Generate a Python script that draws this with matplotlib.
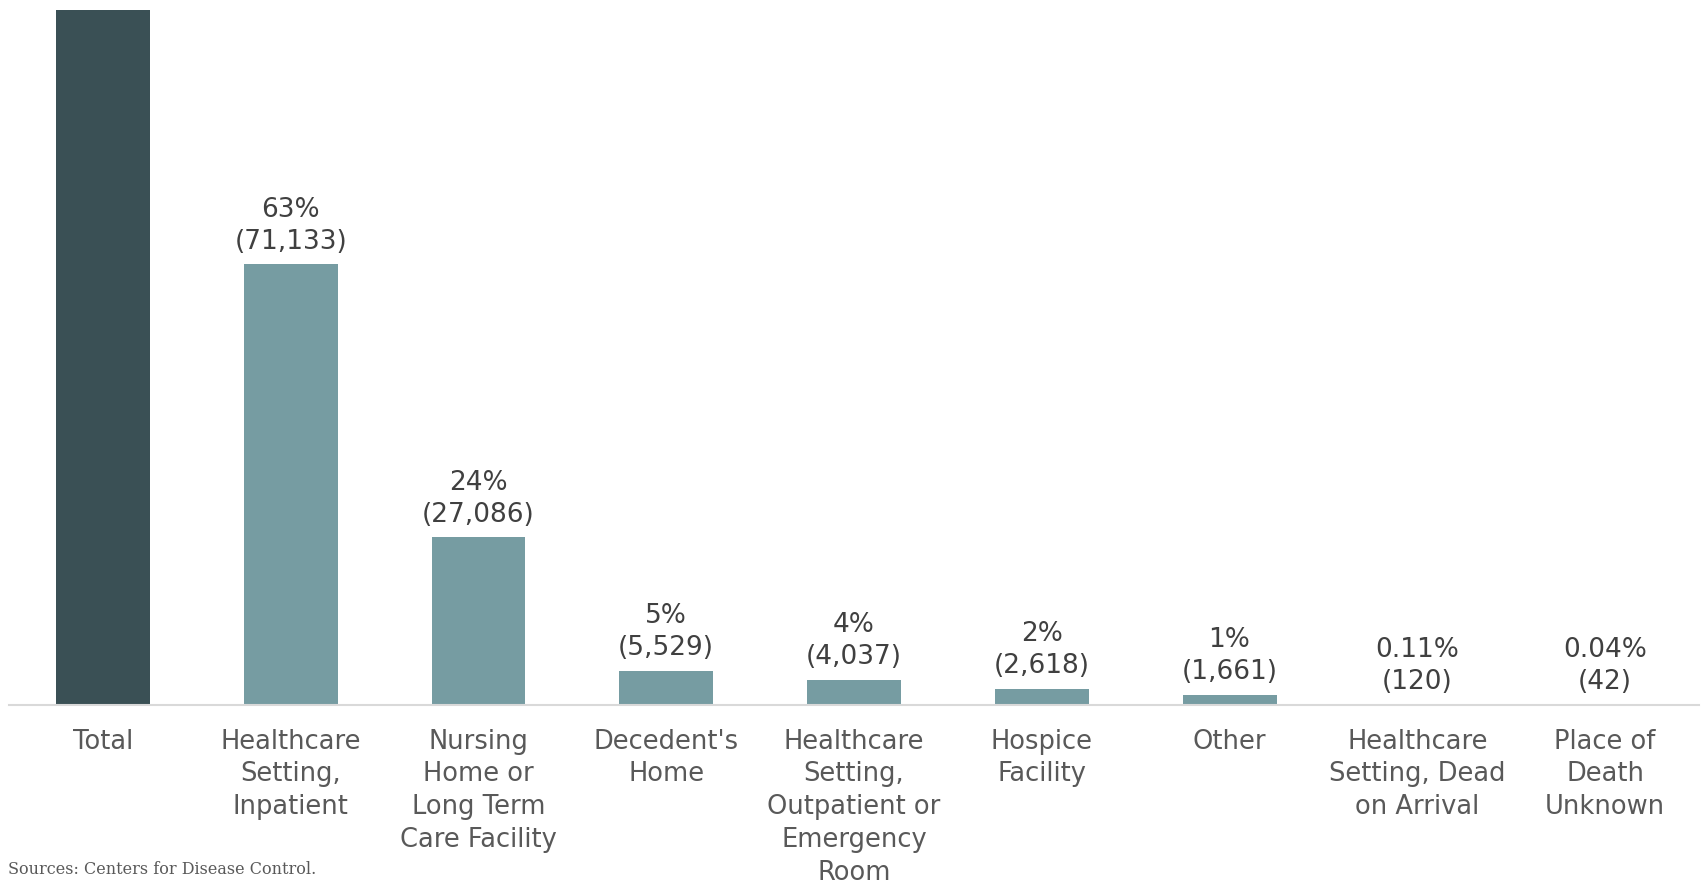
import matplotlib
matplotlib.use("Agg")
import matplotlib.pyplot as plt

categories = ["Total", "Healthcare\nSetting,\nInpatient", "Nursing\nHome or\nLong Term\nCare Facility",
              "Decedent's\nHome", "Healthcare\nSetting,\nOutpatient or\nEmergency\nRoom",
              "Hospice\nFacility", "Other", "Healthcare\nSetting, Dead\non Arrival",
              "Place of\nDeath\nUnknown"]
counts = [112226, 71133, 27086, 5529, 4037, 2618, 1661, 120, 42]
pct_labels = ["", "63%", "24%", "5%", "4%", "2%", "1%", "0.11%", "0.04%"]

fig = plt.figure(figsize=(17.02, 8.83), dpi=100)
ax = fig.add_axes([9/1702, 1-705/883, (1699-9)/1702, (705-10)/883])

colors = ["#3a5055"] + ["#769ca2"] * (len(counts) - 1)
x = list(range(len(categories)))
bars = ax.bar(x, counts, width=0.5, color=colors)

for i, (c, p) in enumerate(zip(counts, pct_labels)):
    if not p:
        continue
    ax.annotate(f"{p}\n({c:,})", xy=(i, c), xytext=(0, 7), textcoords="offset points",
                ha="center", va="bottom", fontsize=19, color="#404040", linespacing=1.3)

ax.set_xlim(-0.5, 8.5)
ax.set_ylim(0, counts[0])
ax.set_xticks(x)
ax.set_xticklabels(categories, fontsize=18.5, color="#595959", linespacing=1.34)
ax.tick_params(axis="x", length=0, pad=17)
ax.set_yticks([])
for s in ["top", "right", "left"]:
    ax.spines[s].set_visible(False)
ax.spines["bottom"].set_color("#d9d9d9")
ax.spines["bottom"].set_linewidth(1.5)

fig.text(8/1702, 1-874/883, "Sources: Centers for Disease Control.", fontsize=11.5,
         family="DejaVu Serif", color="#595959", ha="left", va="baseline")

fig.savefig("out.png", dpi=100)
